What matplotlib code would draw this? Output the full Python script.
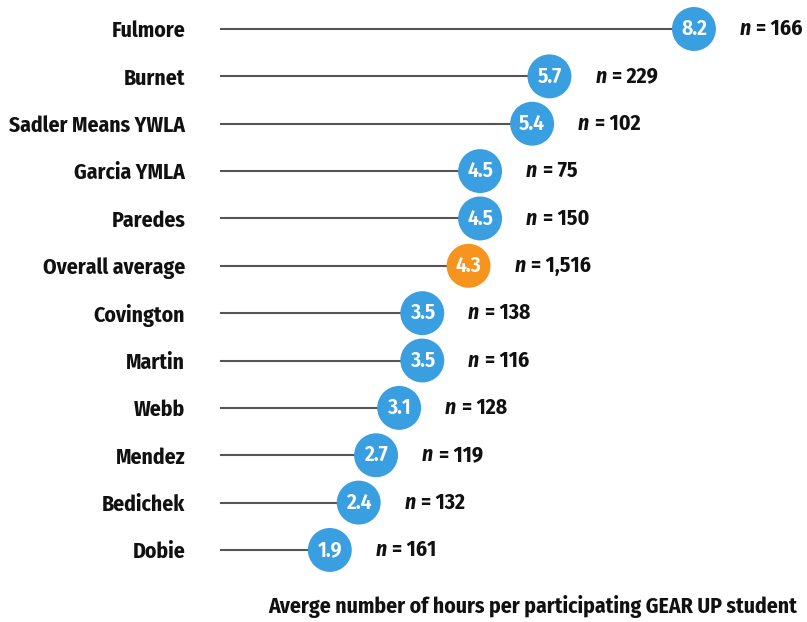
import matplotlib.pyplot as plt

# Data
schools = ['Fulmore', 'Burnet', 'Sadler Means YWLA', 'Garcia YMLA', 'Paredes',
           'Overall average', 'Covington', 'Martin', 'Webb', 'Mendez',
           'Bedichek', 'Dobie']
hours = [8.2, 5.7, 5.4, 4.5, 4.5, 4.3, 3.5, 3.5, 3.1, 2.7, 2.4, 1.9]
n_labels = ['166', '229', '102', '75', '150', '1,516', '138', '116', '128',
            '119', '132', '161']

blue = '#3A9FE0'
orange = '#F7941D'
plt.rcParams['font.family'] = ['Fira Sans Condensed', 'Roboto', 'DejaVu Sans']

fig = plt.figure(figsize=(8.07, 6.22), dpi=100)
ax = fig.add_axes([220 / 807, 0, 1 - 220 / 807, 1])

rows = list(range(len(schools)))
colors = [orange if s == 'Overall average' else blue for s in schools]

ax.hlines(rows, 0, hours, color='#555555', lw=1.5, zorder=1)
ax.scatter(hours, rows, s=1000, c=colors, zorder=2, linewidths=0)

for i, (h, n) in enumerate(zip(hours, n_labels)):
    ax.text(h, i, f'{h:.1f}', ha='center', va='center', color='white',
            fontsize=15.5, fontweight='semibold', zorder=3)
    ax.annotate('n', (h, i), xytext=(33, 0), textcoords='offset points',
                ha='left', va='center', fontsize=15.6, fontstyle='italic',
                fontweight='bold', color='#111111')
    ax.annotate('= ' + n, (h, i), xytext=(45, 0), textcoords='offset points',
                ha='left', va='center', fontsize=15.6, fontweight='bold',
                color='#111111')

ax.set_xlim(0, 587 / 57.8)
ax.set_ylim(593 / 47.36, -29 / 47.36)
ax.set_yticks(rows)
ax.set_yticklabels(schools, fontsize=15.6, fontweight='bold', color='#111111')
ax.tick_params(axis='y', length=0, pad=25)
ax.set_xticks([])
for sp in ax.spines.values():
    sp.set_visible(False)

fig.text(797 / 807, 1 - 607 / 622, 'Averge number of hours per participating GEAR UP student',
         ha='right', va='center', fontsize=15.6, fontweight='bold', color='#111111')

fig.savefig('out.png', dpi=100)
